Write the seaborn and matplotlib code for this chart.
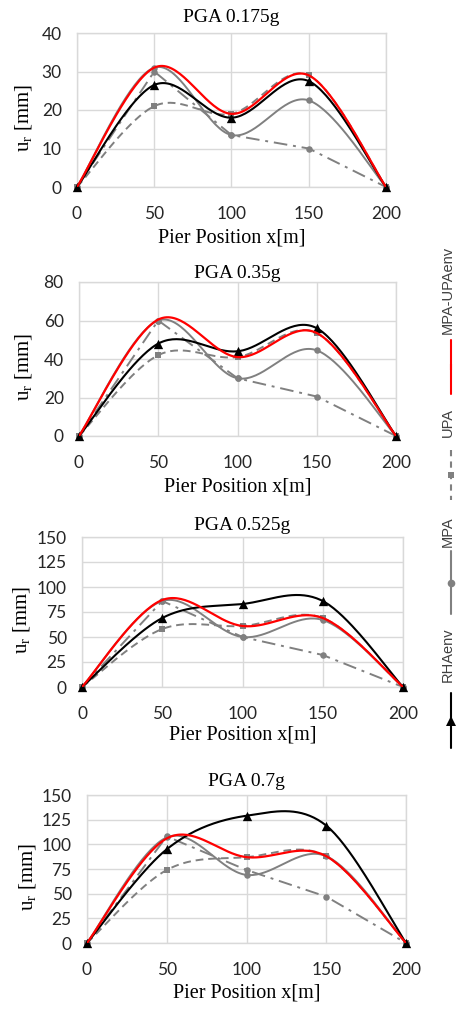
import numpy as np
import pandas as pd
import matplotlib
matplotlib.use('Agg')
import matplotlib.pyplot as plt
from matplotlib.lines import Line2D
import seaborn as sns

#  Data 
pier_x = [0, 50, 100, 150, 200]
titles = ["PGA 0.175g", "PGA 0.35g", "PGA 0.525g", "PGA 0.7g"]
y_max = [40, 80, 150, 150]
y_step = [10, 20, 25, 25]

rha = [[0, 26.5, 18, 27.5, 0],
       [0, 48, 44, 56, 0],
       [0, 69, 83, 86, 0],
       [0, 95, 129, 119, 0]]
mpa = [[0, 31, 13.5, 22.5, 0],
       [0, 60, 30, 44.5, 0],
       [0, 86, 50, 67, 0],
       [0, 107, 69, 88, 0]]
upa = [[0, 21, 19, 29, 0],
       [0, 42, 41, 53.5, 0],
       [0, 58, 61, 69, 0],
       [0, 74, 87, 88, 0]]
env = [[0, 31, 19, 29, 0],
       [0, 60.5, 41, 53.5, 0],
       [0, 87, 61, 69, 0],
       [0, 106, 87, 88, 0]]
mpa1 = [[0, 30, 13.5, 10, 0],
        [0, 60, 30, 20.5, 0],
        [0, 86, 50, 32, 0],
        [0, 108, 74, 47, 0]]

#  Style 
sns.set_style("whitegrid")
plt.rcParams.update({
    "font.family": ["Liberation Serif", "DejaVu Serif"],
    "mathtext.fontset": "custom",
    "mathtext.rm": "Liberation Serif",
    "mathtext.it": "Liberation Serif:italic",
})
GRID = "#d9d9d9"
GRAY = "#808080"
RED = "#ff0000"


def smooth(xs, ys, n=40):
    # Excel style smoothed line (Catmull-Rom as cubic Bezier)
    p = np.column_stack([xs, ys]).astype(float)
    p = np.vstack([p[0], p, p[-1]])
    t = np.linspace(0, 1, n)[:, None]
    out = []
    for i in range(1, len(p) - 2):
        p0, p1, p2, p3 = p[i - 1], p[i], p[i + 1], p[i + 2]
        b1 = p1 + (p2 - p0) / 6
        b2 = p2 - (p3 - p1) / 6
        seg = ((1 - t) ** 3) * p1 + 3 * ((1 - t) ** 2) * t * b1 \
            + 3 * (1 - t) * t ** 2 * b2 + t ** 3 * p2
        out.append(seg if i == 1 else seg[1:])
    c = np.vstack(out)
    return pd.DataFrame({"x": c[:, 0], "y": c[:, 1]})


fig = plt.figure(figsize=(4.62, 10.09), dpi=100)
W, H = 462, 1009
# plot areas in pixels: left, right, top, bottom
boxes = [(77, 386, 33, 187), (79, 396, 282, 436),
         (82, 403, 537, 687), (87, 406, 795, 943)]
title_y = [18, 273, 525, 782]
xlabel_y = [238, 487, 735, 993]
ylabel_x = [24, 23, 22, 28]

for k in range(4):
    l, r, t, b = boxes[k]
    ax = fig.add_axes([l / W, 1 - b / H, (r - l) / W, (b - t) / H])

    d = smooth(pier_x, mpa1[k], n=2)
    sns.lineplot(data=d, x="x", y="y", ax=ax, sort=False, estimator=None,
                 color=GRAY, linewidth=1.4, linestyle=(0, (7, 3, 1.5, 3)),
                 zorder=2)
    sns.lineplot(data=smooth(pier_x, upa[k]), x="x", y="y", ax=ax,
                 sort=False, estimator=None, color=GRAY, linewidth=1.4,
                 linestyle=(0, (4, 2.5)), zorder=3)
    sns.lineplot(data=smooth(pier_x, mpa[k]), x="x", y="y", ax=ax,
                 sort=False, estimator=None, color=GRAY, linewidth=1.4,
                 zorder=4)
    sns.lineplot(data=smooth(pier_x, rha[k]), x="x", y="y", ax=ax,
                 sort=False, estimator=None, color="black", linewidth=1.5,
                 zorder=5)
    sns.lineplot(data=smooth(pier_x, env[k]), x="x", y="y", ax=ax,
                 sort=False, estimator=None, color=RED, linewidth=1.6,
                 zorder=7)

    sns.scatterplot(x=pier_x, y=mpa1[k], ax=ax, color=GRAY, marker="o",
                    s=22, linewidth=0, clip_on=False, zorder=3)
    sns.scatterplot(x=pier_x, y=upa[k], ax=ax, color=GRAY, marker="s",
                    s=14, linewidth=0, clip_on=False, zorder=3)
    sns.scatterplot(x=pier_x, y=mpa[k], ax=ax, color=GRAY, marker="o",
                    s=22, linewidth=0, clip_on=False, zorder=4)
    sns.scatterplot(x=pier_x, y=rha[k], ax=ax, color="black", marker="^",
                    s=45, linewidth=0, clip_on=False, zorder=6)

    ax.set_xlim(0, 200)
    ax.set_ylim(0, y_max[k])
    ax.set_xticks(np.arange(0, 201, 50))
    ax.set_yticks(np.arange(0, y_max[k] + 1, y_step[k]))
    ax.grid(True, color=GRID, linewidth=1.0)
    for s in ax.spines.values():
        s.set_color(GRID)
        s.set_linewidth(1.0)
    ax.tick_params(length=0, labelsize=12.5, colors="#262626")
    ax.tick_params(axis="x", pad=14)
    ax.tick_params(axis="y", pad=11)
    for lab in ax.get_xticklabels() + ax.get_yticklabels():
        lab.set_fontfamily("Lato")
    ax.set_xlabel("")
    ax.set_ylabel("")

    fig.text((l + r) / 2 / W, 1 - title_y[k] / H, titles[k], fontsize=14,
             ha="center", va="center", color="black")
    fig.text((l + r) / 2 / W, 1 - xlabel_y[k] / H, "Pier Position x[m]",
             fontsize=14.5, ha="center", va="center", color="black")
    fig.text(ylabel_x[k] / W, 1 - ((t + b) / 2 + 8) / H,
             r"u$_{\mathregular{r}}$ [mm]",
             fontsize=15, ha="center", va="center", rotation=90,
             color="black")

#  Rotated legend on the right 
lg = fig.add_axes([420 / W, 0, 42 / W, 1])
lg.set_xlim(0, 42)
lg.set_ylim(H, 0)
lg.axis("off")

entries = [
    # label, text span, line span, colour, style, marker, marker size
    ("RHAenv", (620, 690), (693, 748), "black", "-", "^", 7),
    ("MPA", (515, 548), (551, 614), GRAY, "-", "o", 5.5),
    ("UPA", (405, 440), (450, 500), GRAY, (0, (3, 2.5)), "s", 5),
    ("MPA-UPAenv", (245, 335), (340, 394), RED, "-", "|", 4),
]
for name, (t0, t1), (l0, l1), col, ls, mk, ms in entries:
    lg.add_line(Line2D([31, 31], [l0, l1], color=col, linestyle=ls,
                       linewidth=1.5))
    lg.add_line(Line2D([31], [(l0 + l1) / 2], color=col, marker=mk,
                       markersize=ms, markeredgewidth=0 if mk != "|" else 1.5,
                       linestyle="none"))
    lg.text(28, (t0 + t1) / 2, name, rotation=90, ha="center", va="center",
            fontsize=10.5, family=["Liberation Sans", "DejaVu Sans"],
            color="#404040")

fig.savefig("out.png", dpi=100)
